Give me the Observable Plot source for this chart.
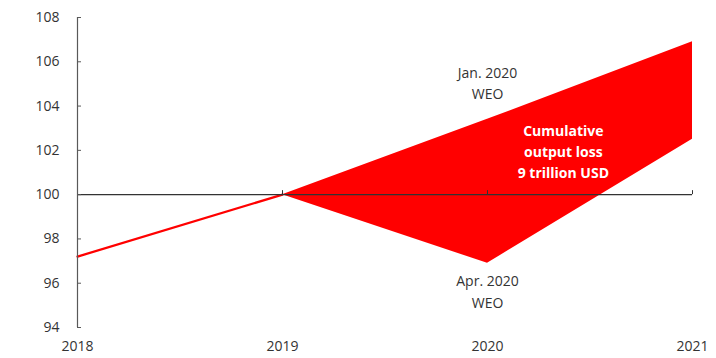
<!DOCTYPE html>
<html>
<head>
<meta charset="utf-8">
<script src="https://cdn.jsdelivr.net/npm/d3@7"></script>
<script src="https://cdn.jsdelivr.net/npm/@observablehq/plot@0.6"></script>
<style>
  html, body { margin: 0; padding: 0; background: #fff; }
  #chart svg { display: block; }
</style>
</head>
<body>
<div id="chart"></div>
<script>
// Data
const xTicks = [2018, 2019, 2020, 2021];
const yTicks = [94, 96, 98, 100, 102, 104, 106, 108];
const histYears = [2018, 2019];
const histValues = [97.2, 100];
const fcYears = [2019, 2020, 2021];
const janWEO = [100, 103.4, 106.9];
const aprWEO = [100, 96.9, 102.5];
const labelTexts = ["Jan. 2020\nWEO", "Apr. 2020\nWEO"];
const labelX = [2020, 2020];
const labelY = [105.1, 95.7];
const lossText = ["Cumulative\noutput loss\n9 trillion USD"];
const lossX = [2020.37];
const lossY = [102.0];

const hist = histYears.map((x, i) => ({x, y: histValues[i]}));
const fc = fcYears.map((x, i) => ({x, lo: aprWEO[i], hi: janWEO[i]}));
const labels = labelTexts.map((t, i) => ({t, x: labelX[i], y: labelY[i]}));
const loss = lossText.map((t, i) => ({t, x: lossX[i], y: lossY[i]}));

const W = 716, H = 358;
const mL = 77, mR = 24, mT = 17, mB = 31;
const font = "'Open Sans', Lato, sans-serif";

const chart = Plot.plot({
  width: W, height: H,
  marginLeft: mL, marginRight: mR, marginTop: mT, marginBottom: mB,
  style: {fontFamily: font, fontSize: "14px", color: "#333"},
  x: {domain: [2018, 2021], label: null},
  y: {domain: [94, 108], label: null},
  marks: [
    Plot.areaY(fc, {x: "x", y1: "lo", y2: "hi", fill: "#ff0000"}),
    Plot.line(hist, {x: "x", y: "y", stroke: "#ff0000", strokeWidth: 2.2}),
    Plot.ruleY([100], {stroke: "#333", strokeWidth: 1.2}),
    Plot.ruleX(xTicks.slice(1), {y1: 100, y2: 100, insetTop: -4, stroke: "#333"}),
    Plot.ruleX([2018], {y1: 94, y2: 108, stroke: "#595959", strokeWidth: 1.2}),
    Plot.ruleY(yTicks, {x1: 2018, x2: 2018, insetRight: -4, stroke: "#595959"}),
    Plot.axisY({ticks: yTicks, tickFormat: d => d, tickSize: 0, tickPadding: 18, fontSize: 14, fill: "#333", label: null}),
    Plot.axisX({ticks: xTicks, tickFormat: d => String(d), tickSize: 0, tickPadding: 14, fontSize: 14, fill: "#333", label: null}),
    Plot.text(labels, {x: "x", y: "y", text: "t", fill: "#333", fontSize: 14, lineHeight: 1.55}),
    Plot.text(loss, {x: "x", y: "y", text: "t", fill: "#fff", fontSize: 14, fontWeight: "bold", lineHeight: 1.5})
  ]
});
document.getElementById("chart").appendChild(chart);
</script>
</body>
</html>
